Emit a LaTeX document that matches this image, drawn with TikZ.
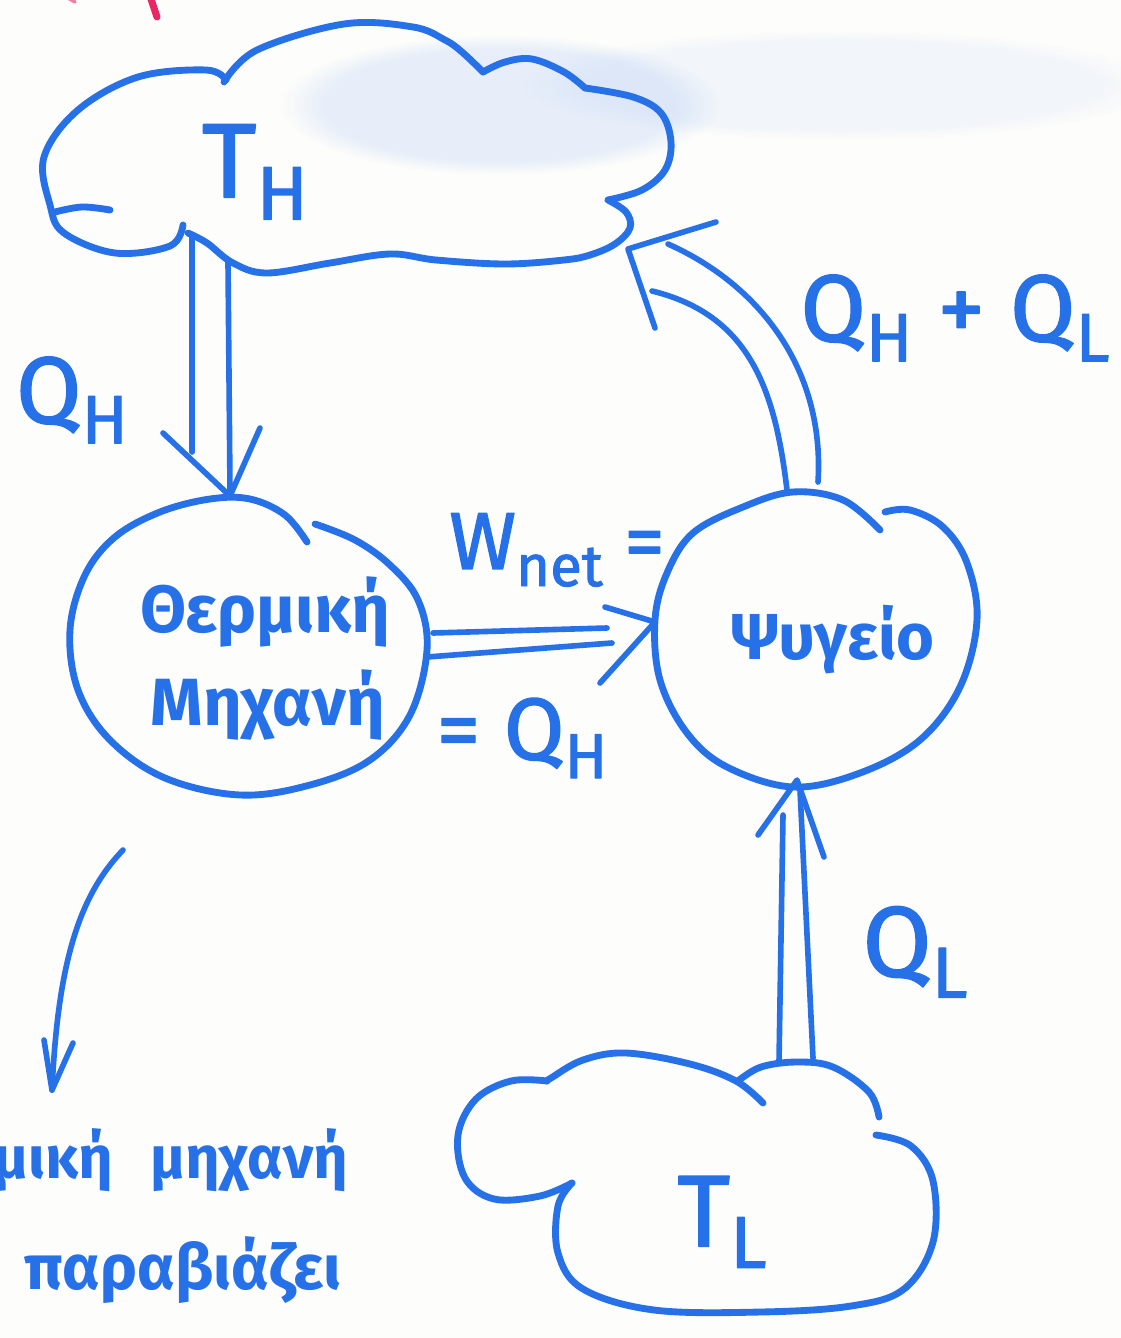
\documentclass[tikz,border=0pt]{standalone}
\usepackage{fontspec}
\setmainfont{Fira Sans}
\newfontfamily\semifont{Fira Sans}[FakeBold=1.6]
\usetikzlibrary{fadings}
\definecolor{ink}{RGB}{38,112,232}
\definecolor{board}{RGB}{253,253,251}
\definecolor{redink}{RGB}{232,40,100}
\newcommand\lsub[1]{\raisebox{-0.4ex}{\scalebox{0.72}{#1}}}
\begin{document}
\begin{tikzpicture}[x=0.02cm,y=-0.02cm,line cap=round,line join=round,
  outline/.style={draw=ink,line width=3.9pt},
  shaft/.style={draw=ink,line width=3.2pt},
  lbl/.style={text=ink,inner sep=0pt,font=\bfseries\fontsize{#1}{#1}\selectfont},
  lblr/.style={text=ink,inner sep=0pt,font=\semifont\fontsize{#1}{#1}\selectfont}]
\useasboundingbox (0,0) rectangle (1121,1338);
\fill[board] (0,0) rectangle (1121,1338);
\clip (0,0) rectangle (1121,1338);

% faint smudge of an erased drawing
\fill[ink,opacity=0.10,path fading=circle with fuzzy edge 20 percent] (500,105) ellipse [x radius=220,y radius=70];
\fill[ink,opacity=0.05,path fading=circle with fuzzy edge 20 percent] (840,85) ellipse [x radius=320,y radius=55];

% red mark
\draw[redink,line width=4pt] (150,-4) -- (157,17);
\draw[redink!60,line width=2pt] (68,-2) -- (75,2);

% ---------- hot reservoir cloud
\draw[outline] plot[smooth,tension=0.6] coordinates {(183,225) (170,246) (115,253) (64,233) (50,205) (44,157) (78,110) (138,77) (206,70) (226,80)};
\draw[outline] plot[smooth,tension=0.6] coordinates {(224,82) (257,50) (344,24) (413,27) (445,40) (462,52) (483,72)};
\draw[outline] plot[smooth,tension=0.6] coordinates {(483,72) (505,62) (532,59) (564,72) (585,88)};
\draw[outline] plot[smooth,tension=0.6] coordinates {(585,88) (633,97) (661,113) (671,142) (665,170) (642,190) (608,200)};
\draw[outline] plot[smooth,tension=0.6] coordinates {(608,200) (626,212) (630,228) (615,244) (590,255) (564,260) (505,264) (436,260) (390,254) (330,263) (267,273) (233,263) (207,243) (188,233)};
\draw[outline] plot[smooth,tension=0.6] coordinates {(55,212) (82,207) (110,210)};
\node[lblr=60] (TH) at (255,172) {T\lsub{H}};

% ---------- heat engine
\draw[outline] plot[smooth,tension=0.6] coordinates {(307,542) (285,515) (250,499) (210,499) (160,512) (115,537) (85,575) (70,630) (78,690) (110,740) (165,778) (240,795) (310,785) (370,760) (410,715) (427,650) (418,600) (390,565) (355,540) (315,524)};
\node[lbl=38] (engine1) at (265,612) {Θερμική};
\node[lbl=38] (engine2) at (268,705) {Μηχανή};

% ---------- refrigerator
\draw[outline] plot[smooth,tension=0.6] coordinates {(880,530) (843,500) (793,492) (743,507) (693,533) (667,573) (655,620) (660,680) (687,733) (727,767) (793,787) (860,773) (920,740) (960,687) (977,620) (967,563) (943,527) (910,510) (885,512)};
\node[lbl=37] (fridge) at (833,640) {Ψυγείο};

% ---------- cold reservoir cloud
\draw[outline] plot[smooth,tension=0.6] coordinates {(763,1103) (736,1081) (690,1064) (626,1053) (583,1060) (551,1078) (547,1081)};
\draw[outline] plot[smooth,tension=0.6] coordinates {(547,1081) (511,1081) (476,1099) (458,1135) (465,1178) (494,1199) (540,1196) (572,1183)};
\draw[outline] plot[smooth,tension=0.6] coordinates {(572,1183) (558,1206) (558,1253) (583,1289) (654,1310) (761,1312) (851,1306) (904,1289) (933,1242) (933,1181) (911,1146) (876,1135)};
\draw[outline] plot[smooth,tension=0.6] coordinates {(879,1117) (869,1092) (833,1067) (797,1062) (761,1067) (738,1081)};
\node[lblr=58] (TL) at (722,1222) {T\lsub{L}};

% ---------- Q_H : hot cloud -> engine
\coordinate (qhA1) at (192,237); \coordinate (qhA2) at (192,452);
\coordinate (qhB1) at (228,262); \coordinate (qhB2) at (230,490);
\coordinate (qhTip) at (230,496);
\coordinate (qhL) at (163,433); \coordinate (qhR) at (260,428);
\draw[shaft] (qhA1) -- (qhA2);
\draw[shaft] (qhB1) -- (qhB2);
\draw[shaft] (qhL) -- (qhTip) -- (qhR);
\node[lblr=54] (QHlbl) at (72,400) {Q\lsub{H}};

% ---------- W_net : engine -> refrigerator
\coordinate (wA1) at (433,633); \coordinate (wA2) at (607,628);
\coordinate (wB1) at (427,657); \coordinate (wB2) at (612,643);
\coordinate (wTip) at (655,622);
\coordinate (wU) at (605,607); \coordinate (wD) at (600,683);
\draw[shaft] (wA1) -- (wA2);
\draw[shaft] (wB1) -- (wB2);
\draw[shaft] (wU) -- (wTip) -- (wD);
\node[lblr=46] (Wlbl) at (557,550) {W\lsub{net} =};
\node[lblr=50] (Wlbl2) at (522,738) {= Q\lsub{H}};

% ---------- Q_L : cold cloud -> refrigerator
\coordinate (qlA1) at (779,1062); \coordinate (qlA2) at (783,815);
\coordinate (qlB1) at (813,1058); \coordinate (qlB2) at (800,790);
\coordinate (qlTip) at (797,780);
\coordinate (qlL) at (758,835); \coordinate (qlR) at (824,857);
\draw[shaft] (qlA1) -- (qlA2);
\draw[shaft] (qlB1) -- (qlB2);
\draw[shaft] (qlL) -- (qlTip) -- (qlR);
\node[lblr=57] (QLlbl) at (915,952) {Q\lsub{L}};

% ---------- Q_H + Q_L : refrigerator -> hot cloud
\coordinate (rA1) at (787,490); \coordinate (rA2) at (652,291);
\coordinate (rB1) at (818,482); \coordinate (rB2) at (668,244);
\coordinate (rTip) at (628,249);
\coordinate (rU) at (716,222); \coordinate (rD) at (655,328);
\draw[shaft] (rA1) .. controls (775,390) and (750,315) .. (rA2);
\draw[shaft] (rB1) .. controls (825,370) and (760,285) .. (rB2);
\draw[shaft] (rU) -- (rTip) -- (rD);
\node[lblr=54] (QHQLlbl) at (955,318) {Q\lsub{H} + Q\lsub{L}};

% ---------- note at bottom left
\coordinate (nA) at (123,850); \coordinate (nTip) at (52,1090);
\draw[shaft] (nA) .. controls (80,895) and (58,960) .. (nTip);
\draw[shaft] (44,1040) -- (nTip) -- (73,1043);
\node[lbl=34,anchor=east] (note0) at (113,1160) {μική};
\node[lbl=34,anchor=west] (note1) at (150,1160) {μηχανή};
\node[lbl=36] (note2) at (183,1270) {παραβιάζει};
\end{tikzpicture}
\end{document}
